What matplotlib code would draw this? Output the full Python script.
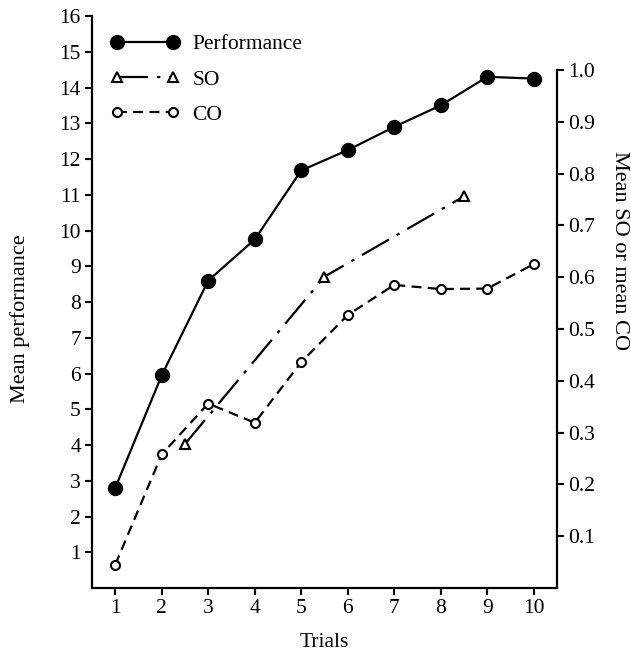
import matplotlib
matplotlib.use("Agg")
import matplotlib.pyplot as plt

plt.rcParams['font.family'] = ['Liberation Serif', 'DejaVu Serif']
plt.rcParams['font.size'] = 15.5

# data
trials = [1, 2, 3, 4, 5, 6, 7, 8, 9, 10]
performance = [2.8, 5.95, 8.6, 9.75, 11.68, 12.25, 12.9, 13.5, 14.3, 14.25]
co = [0.045, 0.258, 0.356, 0.319, 0.436, 0.527, 0.585, 0.577, 0.578, 0.625]
so_x = [2.5, 5.5, 8.5]
so = [0.278, 0.601, 0.756]

fig = plt.figure(figsize=(6.31, 6.57), dpi=100)
ax = fig.add_axes([0.1458, 0.105, 0.7369, 0.8706])
ax2 = ax.twinx()

l1, = ax.plot(trials, performance, color='black', lw=1.6, marker='o', ms=10,
              label='Performance')
l2, = ax2.plot(so_x, so, color='black', lw=1.6, ls=(0, (14, 4, 1.5, 4)), marker='^',
               ms=7, mfc='white', mew=1.5, label='SO')
l3, = ax2.plot(trials, co, color='black', lw=1.6, ls=(0, (4.5, 2.8)), marker='o',
               ms=6.5, mfc='white', mew=1.5, label='CO')

ax.set_xlim(0.5, 10.5)
ax.set_ylim(0, 16)
ax2.set_ylim(0, 1.104)

ax.set_xticks(trials)
ax.set_yticks(range(1, 17))
ax2.set_yticks([0.1, 0.2, 0.3, 0.4, 0.5, 0.6, 0.7, 0.8, 0.9, 1.0])
ax2.set_yticklabels(['0.1', '0.2', '0.3', '0.4', '0.5', '0.6', '0.7', '0.8', '0.9', '1.0'])

for a in (ax, ax2):
    a.spines['top'].set_visible(False)
    for s in a.spines.values():
        s.set_linewidth(1.6)
    a.tick_params(direction='out', length=5, width=1.5, pad=3)
ax.spines['right'].set_visible(False)
ax2.spines['left'].set_visible(False)
ax2.spines['bottom'].set_visible(False)
ax2.spines['right'].set_bounds(0, 1.0)

ax.set_xlabel('Trials', labelpad=11)
ax.set_ylabel('Mean performance', fontsize=16, va='center')
ax.yaxis.set_label_coords(-0.155, 0.47)
ax2.set_ylabel('Mean SO or mean CO', rotation=-90, va='center', fontsize=16)
ax2.yaxis.set_label_coords(1.135, 0.59)

ax2.legend(handles=[l1, l2, l3], loc='upper left', bbox_to_anchor=(0.04, 0.968),
           frameon=False, numpoints=2, handlelength=3.2, handletextpad=0.6,
           labelspacing=0.7, borderpad=0, borderaxespad=0)

fig.savefig('out.png', dpi=100)
